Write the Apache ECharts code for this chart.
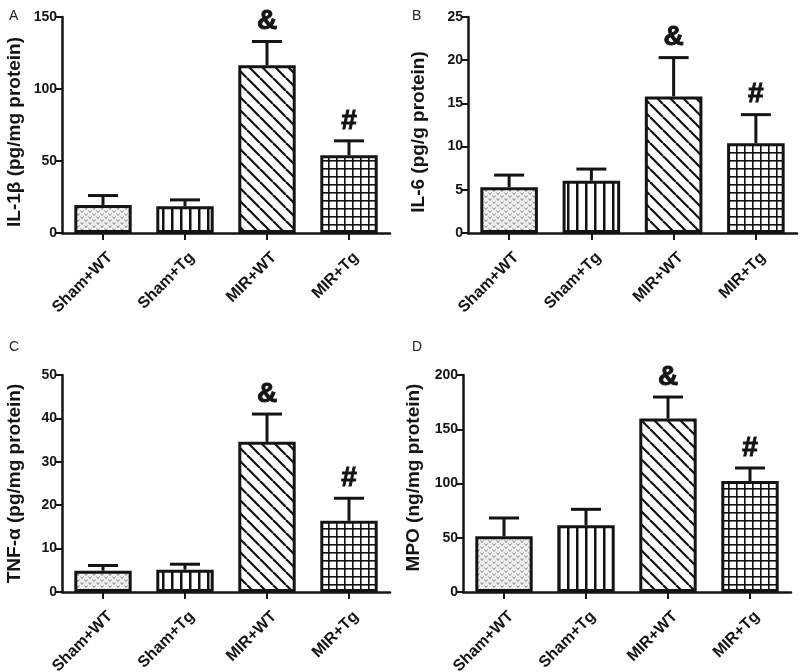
<!DOCTYPE html>
<html>
<head>
<meta charset="utf-8">
<script src="https://cdn.jsdelivr.net/npm/echarts@6/dist/echarts.min.js"></script>
<style>
html,body{margin:0;padding:0;background:#fff;}
#chart{width:800px;height:672px;}
</style>
</head>
<body>
<div id="chart"></div>
<script>
// ---- data ----
const categories = ['Sham+WT', 'Sham+Tg', 'MIR+WT', 'MIR+Tg'];
const marks = ['', '', '&', '#'];

const il1bMean  = [19.5, 18.5, 116.5, 54];
const il1bUpper = [26, 23, 133, 64];

const il6Mean  = [5.3, 6.05, 15.8, 10.4];
const il6Upper = [6.7, 7.4, 20.3, 13.7];

const tnfMean  = [4.9, 5.15, 34.6, 16.4];
const tnfUpper = [6.1, 6.4, 41.0, 21.6];

const mpoMean  = [51.3, 61.5, 159.8, 102.3];
const mpoUpper = [68.2, 76.2, 179.7, 114.3];

const panelLetters = ['A', 'B', 'C', 'D'];
const yTitles = ['IL-1β (pg/mg protein)', 'IL-6 (pg/g protein)', 'TNF-α (pg/mg protein)', 'MPO (ng/mg protein)'];
const yMax = [150, 25, 50, 200];
const yInterval = [50, 5, 10, 50];

// ---- patterns ----
function makeCanvas(w, h) {
  const c = document.createElement('canvas');
  c.width = w; c.height = h;
  return c;
}
function stipple() {
  const c = makeCanvas(8, 6), g = c.getContext('2d');
  g.fillStyle = '#efefef'; g.fillRect(0, 0, 8, 6);
  g.strokeStyle = '#808080'; g.lineWidth = 1;
  g.beginPath(); g.moveTo(0.5, 0.5); g.lineTo(2, 2.5); g.lineTo(3.5, 0.5); g.stroke();
  g.beginPath(); g.moveTo(4.5, 3.5); g.lineTo(6, 5.5); g.lineTo(7.5, 3.5); g.stroke();
  return c;
}
function vlines() {
  const c = makeCanvas(9, 9), g = c.getContext('2d');
  g.fillStyle = '#fff'; g.fillRect(0, 0, 9, 9);
  g.fillStyle = '#111'; g.fillRect(0, 0, 2.5, 9);
  return c;
}
function diag() {
  const s = 13;
  const c = makeCanvas(s, s), g = c.getContext('2d');
  g.fillStyle = '#fff'; g.fillRect(0, 0, s, s);
  g.strokeStyle = '#111'; g.lineWidth = 2.2;
  for (const o of [-s, 0, s]) {
    g.beginPath(); g.moveTo(o, 0); g.lineTo(o + s, s); g.stroke();
  }
  return c;
}
function gridPat() {
  const c = makeCanvas(8, 8), g = c.getContext('2d');
  g.fillStyle = '#fff'; g.fillRect(0, 0, 8, 8);
  g.fillStyle = '#111';
  g.fillRect(0, 0, 8, 1.6);
  g.fillRect(0, 0, 1.6, 8);
  return c;
}
const patterns = [stipple(), vlines(), diag(), gridPat()].map(img => ({ image: img, repeat: 'repeat' }));

// ---- layout ----
const grids = [
  { left: 62, top: 17, width: 328, height: 216, outerBoundsMode: 'none' },
  { left: 468, top: 17, width: 329, height: 216, outerBoundsMode: 'none' },
  { left: 62, top: 375, width: 328, height: 217, outerBoundsMode: 'none' },
  { left: 463, top: 375, width: 328, height: 217, outerBoundsMode: 'none' }
];
const nameGaps = [38, 40, 38, 40];
const namePads = [[0, 14, 0, 0], [0, 14, 0, 0], [0, 0, 0, 0], [0, 0, 0, 12]];
const letterPos = [[4, 4], [407, 4], [4, 335], [407, 335]];

const means = [il1bMean, il6Mean, tnfMean, mpoMean];
const uppers = [il1bUpper, il6Upper, tnfUpper, mpoUpper];

const FONT = '"Liberation Sans", Arial, sans-serif';
const INK = '#141414';

const option = {
  animation: false,
  backgroundColor: '#fff',
  title: panelLetters.map((t, i) => ({
    text: t, left: letterPos[i][0], top: letterPos[i][1],
    textStyle: { fontSize: 14, fontWeight: 'normal', fontFamily: FONT, color: '#222' }
  })),
  grid: grids,
  xAxis: grids.map((g, i) => ({
    type: 'category', gridIndex: i, data: categories, boundaryGap: true,
    axisLine: { show: true, lineStyle: { color: INK, width: 2.5 } },
    axisTick: { show: true, alignWithLabel: true, length: 7, lineStyle: { color: INK, width: 2 } },
    axisLabel: { rotate: 45, margin: 15, fontSize: 16, fontWeight: 'bold', fontFamily: FONT, color: INK,
                 interval: 0, verticalAlign: 'top', padding: [2, 0, 0, 0] },
    splitLine: { show: false }
  })),
  yAxis: grids.map((g, i) => ({
    type: 'value', gridIndex: i, min: 0, max: yMax[i], interval: yInterval[i],
    name: yTitles[i], nameLocation: 'middle', nameGap: nameGaps[i],
    nameTextStyle: { fontSize: 19, fontWeight: 'bold', fontFamily: FONT, color: INK, padding: namePads[i] },
    axisLine: { show: true, lineStyle: { color: INK, width: 2.5 } },
    axisTick: { show: true, length: 6, lineStyle: { color: INK, width: 2 } },
    axisLabel: { fontSize: 14, fontWeight: 'bold', fontFamily: FONT, color: INK, margin: 5 },
    splitLine: { show: false }
  })),
  series: []
};

for (let i = 0; i < 4; i++) {
  option.series.push({
    type: 'bar', xAxisIndex: i, yAxisIndex: i, barWidth: '70%',
    data: means[i].map((v, k) => ({
      value: v,
      itemStyle: { color: patterns[k], borderColor: INK, borderWidth: 3 }
    })),
    z: 2
  });
  option.series.push({
    type: 'custom', xAxisIndex: i, yAxisIndex: i, z: 3,
    data: means[i].map((v, k) => [k, v, uppers[i][k]]),
    renderItem: function (params, api) {
      const base = api.coord([api.value(0), api.value(1)]);
      const top = api.coord([api.value(0), api.value(2)]);
      const half = 15;
      const children = [
        { type: 'line', shape: { x1: base[0], y1: base[1], x2: base[0], y2: top[1] }, style: { stroke: INK, lineWidth: 3 } },
        { type: 'line', shape: { x1: base[0] - half, y1: top[1], x2: base[0] + half, y2: top[1] }, style: { stroke: INK, lineWidth: 3 } }
      ];
      const m = marks[params.dataIndex];
      if (m) {
        children.push({
          type: 'text',
          style: { text: m, x: top[0], y: top[1] - 6, align: 'center', verticalAlign: 'bottom',
                   font: 'bold 28px ' + FONT, fill: INK, stroke: INK, lineWidth: 1 }
        });
      }
      return { type: 'group', children: children };
    }
  });
}

const chart = echarts.init(document.getElementById('chart'), null, { renderer: 'canvas' });
chart.setOption(option);
</script>
</body>
</html>
